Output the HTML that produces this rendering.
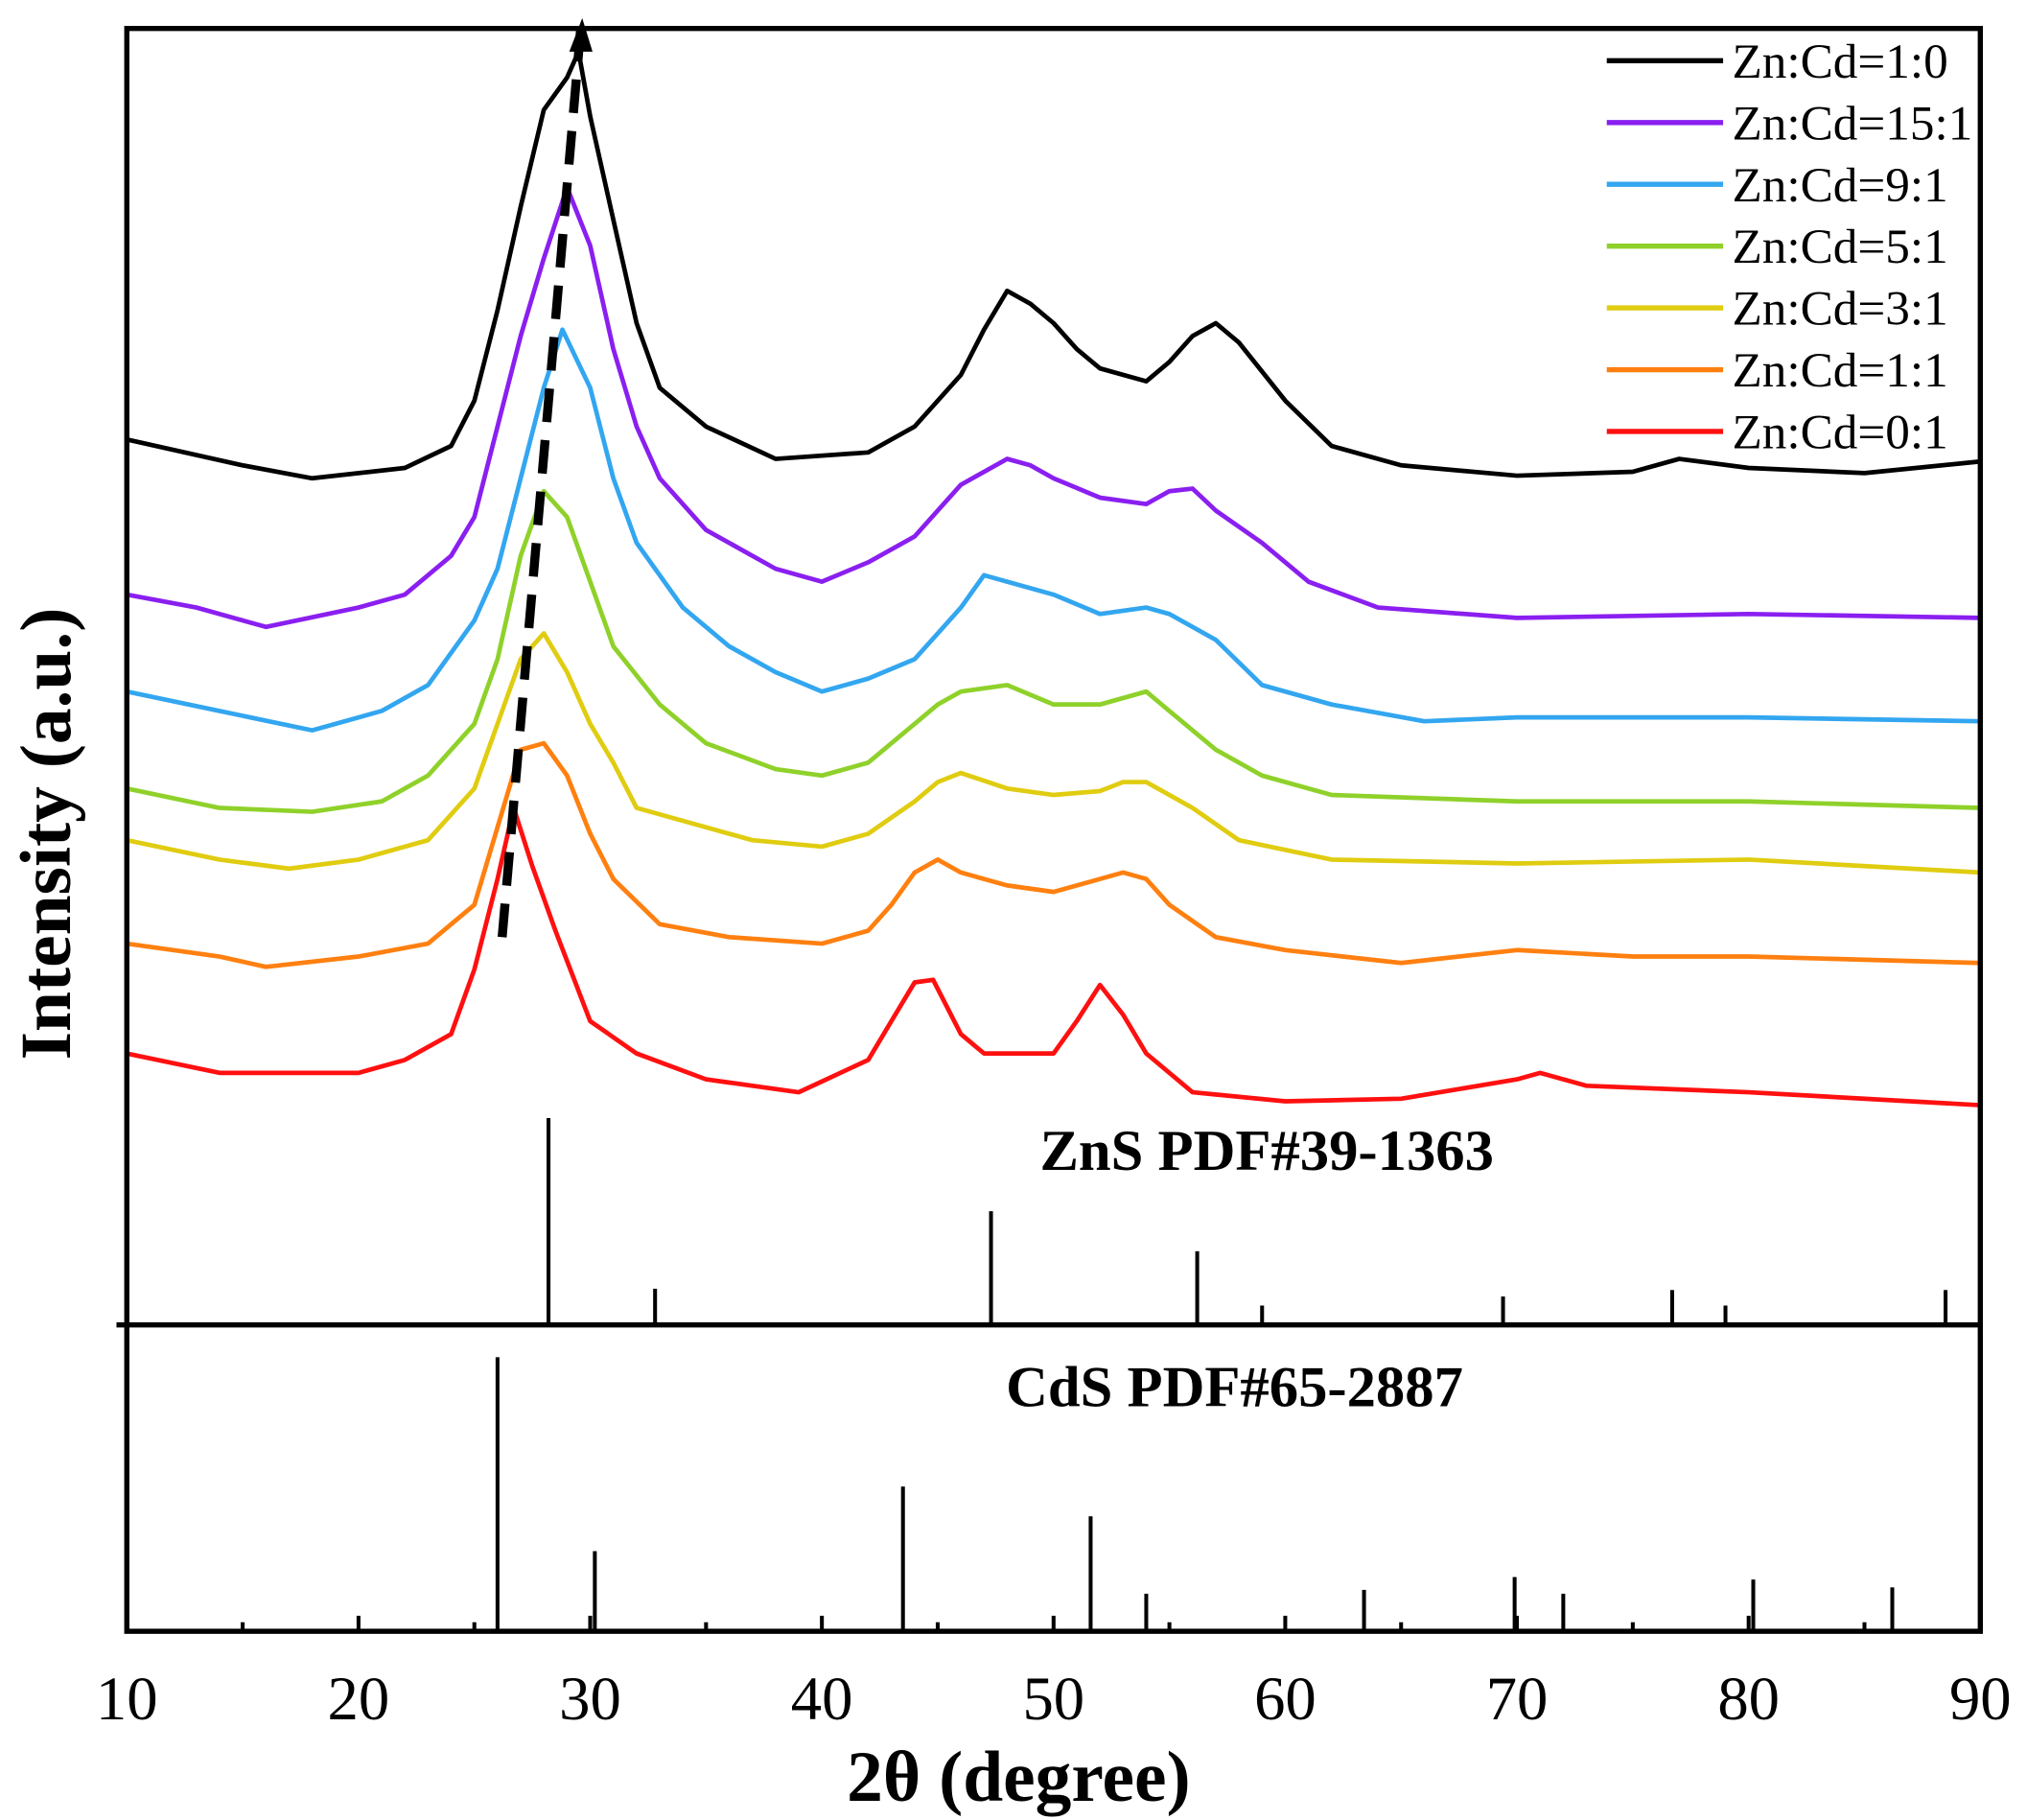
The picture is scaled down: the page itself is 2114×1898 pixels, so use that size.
<!DOCTYPE html>
<html><head><meta charset="utf-8"><style>
html,body{margin:0;padding:0;background:#fff;}
svg{display:block;}
text{font-family:"Liberation Serif",serif;fill:#000;}
</style></head><body>
<svg id="chart" width="2114" height="1898" viewBox="0 0 1568 1408" xmlns="http://www.w3.org/2000/svg">
<g id="plot"></g>
</svg>
<script>
const xTicks=[10,20,30,40,50,60,70,80,90];
const seriesNames=["Zn:Cd=1:0","Zn:Cd=15:1","Zn:Cd=9:1","Zn:Cd=5:1","Zn:Cd=3:1","Zn:Cd=1:1","Zn:Cd=0:1"];
const seriesColors=["#000000","#8a1ff0","#33a6f0","#8fd12a","#e0cc10","#ff8010","#ff1010"];
const s0x=[10,15,18,22,24,25,26,27,28,29,29.5,30,31,32,33,35,38,42,44,46,47,48,49,50,51,52,54,55,56,57,58,60,62,65,70,75,77,80,85,90];
const s0y=[685,665,655,663,680,715,785,865,940,965,985,935,855,775,725,695,670,675,695,735,770,800,790,775,755,740,730,745,765,775,760,715,680,665,657,660,670,663,659,668];
const s1x=[10,13,16,20,22,24,25,26,27,28,29,30,31,32,33,35,38,40,42,44,45,46,47,48,49,50,52,54,55,56,57,59,61,64,70,80,90];
const s1y=[565,555,540,555,565,595,625,695,765,825,880,835,755,695,655,615,585,575,590,610,630,650,660,670,665,655,640,635,645,647,630,605,575,555,547,550,547];
const s2x=[10,14,18,21,23,25,26,27,28,28.8,30,31,32,34,36,38,40,42,44,45,46,47,48,50,52,54,55,57,59,62,66,70,80,90];
const s2y=[490,475,460,475,495,545,585,655,725,770,725,655,605,555,525,505,490,500,515,535,555,580,575,565,550,555,550,530,495,480,467,470,470,467];
const s3x=[10,14,18,21,23,25,26,27,28,29,30,31,33,35,38,40,42,44,45,46,48,50,52,54,55,57,59,62,70,80,90];
const s3y=[415,400,397,405,425,465,515,595,645,625,575,525,480,450,430,425,435,465,480,490,495,480,480,490,475,445,425,410,405,405,400];
const s4x=[10,14,17,20,23,25,26,27,28,29,30,31,32,34,37,40,42,44,45,46,48,50,52,53,54,56,58,62,70,80,90];
const s4y=[375,360,353,360,375,415,465,515,535,505,465,435,400,390,375,370,380,405,420,427,415,410,413,420,420,400,375,360,357,360,350];
const s5x=[10,14,16,20,23,25,26,27,28,29,30,31,33,36,40,42,43,44,45,46,48,50,52,53,54,55,57,60,65,70,75,80,90];
const s5y=[295,285,277,285,295,325,385,445,450,425,380,345,310,300,295,305,325,350,360,350,340,335,345,350,345,325,300,290,280,290,285,285,280];
const s6x=[10,14,17,20,22,24,25,26,26.7,27.5,28.5,30,32,35,39,42,43,44,44.8,46,47,50,51,52,53,54,56,60,65,70,71,73,80,90];
const s6y=[210,195,195,195,205,225,275,345,400,355,305,235,210,190,180,205,235,265,267,225,210,210,235,263,240,210,180,173,175,190,195,185,180,170];
const series=[[s0x,s0y],[s1x,s1y],[s2x,s2y],[s3x,s3y],[s4x,s4y],[s5x,s5y],[s6x,s6y]];
const znsPos=[28.2,32.8,47.3,56.2,59,69.4,76.7,79,88.5];
const znsInt=[160,28,88,57,15,22,27,15,27];
const cdsPos=[26,30.2,43.5,51.6,54,63.4,69.9,72,80.2,86.2];
const cdsInt=[212,62,112,89,29,32,42,29,40,34];
const arrowX=[26.2,29.6];
const arrowY=[300,1005];

const NS="http://www.w3.org/2000/svg";
const L=98,R=1532,T=22,MID=1025,B=1262;
const xs=v=>L+(v-10)*(R-L)/80;
const ys=v=>MID-v;
const yc=v=>B-v;
const g=document.getElementById('plot');
function el(tag,attrs,parent){const e=document.createElementNS(NS,tag);for(const k in attrs)e.setAttribute(k,attrs[k]);(parent||g).appendChild(e);return e;}

series.forEach((s,i)=>{
  const d=s[0].map((x,j)=>(j?'L':'M')+xs(x).toFixed(1)+','+ys(s[1][j]).toFixed(1)).join(' ');
  const p=el('path',{d:d,fill:'none',stroke:seriesColors[i],'stroke-width':3.5,'stroke-linejoin':'round'});
  
  
});
const da=el('line',{x1:xs(arrowX[0]),y1:ys(arrowY[0]),x2:xs(arrowX[1]),y2:ys(arrowY[1]),stroke:'#000','stroke-width':7,'stroke-dasharray':'26,14'});


const ax=xs(arrowX[1]),ay=ys(arrowY[1]);
const ah=el('polygon',{points:`${ax-9},${ay+20} ${ax+9},${ay+20} ${ax+1},${ay-6}`,fill:'#000'});


znsPos.forEach((p,i)=>{const l=el('line',{x1:xs(p),x2:xs(p),y1:MID,y2:ys(znsInt[i]),stroke:'#000','stroke-width':3});

});
cdsPos.forEach((p,i)=>{const l=el('line',{x1:xs(p),x2:xs(p),y1:B,y2:yc(cdsInt[i]),stroke:'#000','stroke-width':3});

});
const fr=el('path',{d:`M${L},${T} H${R} V${B} H${L} Z M90,${MID} H${R}`,fill:'none',stroke:'#000','stroke-width':4});


xTicks.forEach(t=>{
  const tk=el('line',{x1:xs(t),x2:xs(t),y1:B,y2:B-12,stroke:'#000','stroke-width':3});
  
  
  if(t<90){const m=el('line',{x1:xs(t+5),x2:xs(t+5),y1:B,y2:B-7,stroke:'#000','stroke-width':3});
  
  }
  const tx=el('text',{x:xs(t),y:1330,'font-size':48,'text-anchor':'middle'});tx.textContent=t;
  
  
});
seriesNames.forEach((n,i)=>{
  const y=47+i*47.8;
  const ln=el('line',{x1:1243,x2:1333,y1:y,y2:y,stroke:seriesColors[i],'stroke-width':4});
  
  
  const t=el('text',{x:1340,y:y+13,'font-size':38});t.textContent=n;
  
  
});
function label(txt,x,y,size,name,extra){const t=el('text',Object.assign({x:x,y:y,'font-size':size,'font-weight':'bold','text-anchor':'middle'},extra||{}));t.textContent=txt;

}
label('ZnS PDF#39-1363',980,905,45,'zns-reference-label');
label('CdS PDF#65-2887',955,1088,45,'cds-reference-label');
label('2θ (degree)',788,1393,56,'x-axis-title');
label('Intensity (a.u.)',54,645,56,'y-axis-title',{transform:'rotate(-90 54 645)'});
</script>
</body></html>
